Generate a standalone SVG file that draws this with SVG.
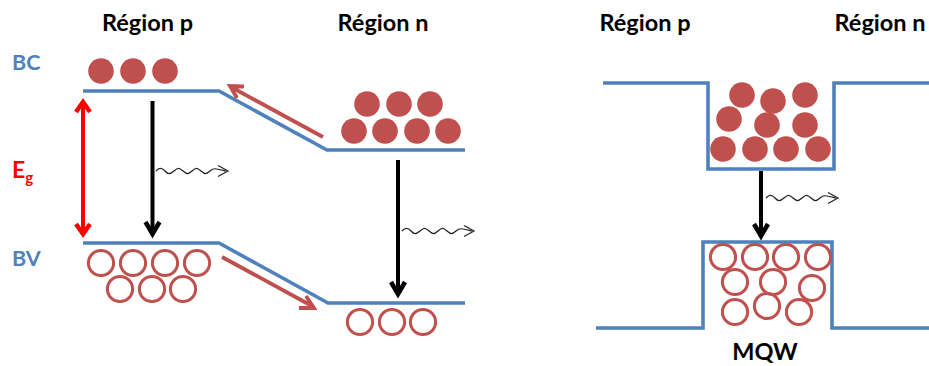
<svg xmlns="http://www.w3.org/2000/svg" width="929" height="366" viewBox="0 0 929 366">
<style>
text{font-family:"Lato","Liberation Sans",sans-serif;font-weight:700}
.t{font-size:23.500px;fill:#000;text-anchor:middle}
.b{font-size:21.500px;fill:#4f81bd}
.band{fill:none;stroke:#4f81bd;stroke-width:3.600;stroke-linejoin:miter}
.e{fill:#c0504d}
.h{fill:none;stroke:#c0504d;stroke-width:3}
.k{fill:none;stroke:#000;stroke-width:4}
.kh{fill:none;stroke:#000;stroke-width:4.500}
.r{fill:none;stroke:#ff0000;stroke-width:4}
.rh{fill:none;stroke:#ff0000;stroke-width:4.500}
.m{fill:none;stroke:#c0504d;stroke-width:3.800}
.w{fill:none;stroke:#222;stroke-width:1.200}
</style>
<defs>
<g id="el"><circle r="12.800" class="e"/></g>
<g id="ho"><circle r="12.600" class="h"/></g>
<g id="ph"><path class="w" d="M0 0C3 -3.500 6 -3.500 9 0S14 3.500 18 0S23 -3.500 27 0S32 3.500 36 0S41 -3.500 45 0S50 3.500 54 0S60 -2.500 70 0"/><path class="w" d="M62 -5.500L72 0L62 5.500"/></g>
</defs>
<g id="labels">
<text class="t" x="147.500" y="31">Région p</text>
<text class="t" x="383" y="31">Région n</text>
<text class="t" x="645" y="31">Région p</text>
<text class="t" x="880" y="31">Région n</text>
<text class="t" x="765" y="360">MQW</text>
<text class="b" x="12" y="70">BC</text>
<text class="b" x="12" y="266">BV</text>
<text x="12" y="178" font-size="23" fill="#ff0000">E<tspan font-size="15" dy="5">g</tspan></text>
</g>
<g id="bands">
<path class="band" d="M83 91H219L327 150H465"/>
<path class="band" d="M83 243H219L328 303H465"/>
<path class="band" d="M603 83H708V169H834V83H929"/>
<path class="band" d="M596 328H703V242H832V328H929"/>
</g>
<g id="electrons">
<use href="#el" x="101" y="71"/><use href="#el" x="133" y="71"/><use href="#el" x="165" y="71"/>
<use href="#el" x="367" y="104"/><use href="#el" x="399" y="104"/><use href="#el" x="430" y="104"/>
<use href="#el" x="354" y="131"/><use href="#el" x="385" y="131"/><use href="#el" x="417" y="131"/><use href="#el" x="448" y="131"/>
<use href="#el" x="742" y="95"/><use href="#el" x="773" y="101"/><use href="#el" x="805" y="95"/>
<use href="#el" x="729" y="119"/><use href="#el" x="767" y="125"/><use href="#el" x="805" y="125"/>
<use href="#el" x="723" y="149"/><use href="#el" x="755" y="149"/><use href="#el" x="786" y="149"/><use href="#el" x="818" y="149"/>
</g>
<g id="holes">
<use href="#ho" x="101" y="263"/><use href="#ho" x="133" y="263"/><use href="#ho" x="165" y="263"/><use href="#ho" x="197" y="263"/>
<use href="#ho" x="120" y="289"/><use href="#ho" x="152" y="289"/><use href="#ho" x="183" y="289"/>
<use href="#ho" x="360" y="322"/><use href="#ho" x="392" y="322"/><use href="#ho" x="423" y="322"/>
<use href="#ho" x="723" y="257"/><use href="#ho" x="755" y="257"/><use href="#ho" x="786" y="257"/><use href="#ho" x="818" y="257"/>
<use href="#ho" x="735" y="282"/><use href="#ho" x="773" y="282"/><use href="#ho" x="812" y="288"/>
<use href="#ho" x="735" y="312"/><use href="#ho" x="767" y="306"/><use href="#ho" x="799" y="312"/>
</g>
<g id="connectors">
<path class="r" d="M83 103V233"/><path class="rh" d="M76 112L83 102L90 112M76 224L83 234L90 224"/>
<path class="k" d="M152.500 101V233"/><path class="kh" d="M145.500 222L152.500 234L159.500 222"/>
<path class="k" d="M398 160V293"/><path class="kh" d="M391 282L398 294L405 282"/>
<path class="k" d="M761 171V235"/><path class="kh" d="M754 224L761 236L768 224"/>
<path class="m" d="M323 137L231 87M244 86.500L230 86L237 98"/>
<path class="m" d="M222 257L312 306M299 308L314 308L306 296"/>
<use href="#ph" x="156" y="171"/>
<use href="#ph" x="402" y="231"/>
<use href="#ph" x="766" y="198"/>
</g>
</svg>
